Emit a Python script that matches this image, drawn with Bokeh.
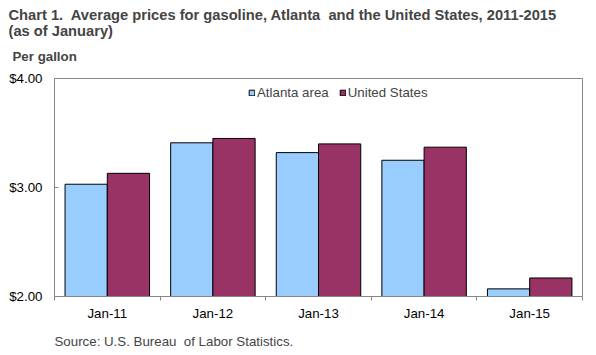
from bokeh.plotting import figure
from bokeh.models import (ColumnDataSource, Range1d, FixedTicker, NumeralTickFormatter,
                          Title, Legend, LegendItem)
from bokeh.transform import dodge
from bokeh.embed import file_html
from bokeh.resources import INLINE
import numpy as np

categories = ["Jan-11", "Jan-12", "Jan-13", "Jan-14", "Jan-15"]
atlanta = [3.03, 3.41, 3.32, 3.25, 2.07]
united_states = [3.13, 3.45, 3.40, 3.37, 2.17]
y_ticks = [2.0, 3.0, 4.0]

FONT = "Liberation Sans"
GRAY = "#868686"
NB = "\u00a0"

centers = list(np.arange(len(categories)) + 0.5)
bounds = list(np.arange(len(categories) + 1).astype(float))

src = ColumnDataSource(dict(x=centers, atl=atlanta, us=united_states))

p = figure(width=584, height=350, output_backend="svg", toolbar_location=None,
           x_range=Range1d(0, len(categories)), y_range=Range1d(2, 4),
           min_border_left=54, min_border_right=2, min_border_top=78, min_border_bottom=54)

r1 = p.vbar(x=dodge("x", -0.2, range=p.x_range), top="atl", bottom=2, width=0.4, source=src,
            fill_color="#99CCFF", line_color="black", line_width=1)
r2 = p.vbar(x=dodge("x", 0.2, range=p.x_range), top="us", bottom=2, width=0.4, source=src,
            fill_color="#993366", line_color="black", line_width=1)

p.xgrid.visible = False
p.ygrid.visible = False
p.outline_line_color = GRAY
p.outline_line_width = 1

xa = p.xaxis[0]
xa.ticker = FixedTicker(ticks=centers, minor_ticks=bounds)
xa.major_label_overrides = {c: lab for c, lab in zip(centers, categories)}
xa.major_tick_in = 0
xa.major_tick_out = 0
xa.minor_tick_in = 0
xa.minor_tick_out = 4
xa.minor_tick_line_color = GRAY
xa.axis_line_color = GRAY
xa.major_label_text_font = FONT
xa.major_label_text_font_size = "13.3px"
xa.major_label_text_color = "black"
xa.major_label_standoff = 5

ya = p.yaxis[0]
ya.ticker = FixedTicker(ticks=y_ticks)
ya.formatter = NumeralTickFormatter(format="$0.00")
ya.major_tick_in = 4
ya.major_tick_out = 0
ya.minor_tick_line_color = None
ya.major_tick_line_color = GRAY
ya.axis_line_color = GRAY
ya.major_label_text_font = FONT
ya.major_label_text_font_size = "13.3px"
ya.major_label_text_color = "black"
ya.major_label_standoff = 12

legend = Legend(items=[LegendItem(label="Atlanta area", renderers=[r1]),
                       LegendItem(label="United States", renderers=[r2])],
                orientation="horizontal", location=(194, 196),
                glyph_width=7, glyph_height=7, label_height=14, label_standoff=2,
                spacing=10, padding=0, margin=0,
                border_line_color=None, background_fill_alpha=0,
                label_text_font=FONT, label_text_font_size="13.3px")
p.add_layout(legend, "center")

t_unit = Title(text="Per gallon", align="left", offset=-42, text_font=FONT,
               text_font_size="13.3px", text_font_style="bold", standoff=30,
               vertical_align="bottom")
p.add_layout(t_unit, "above")
t_main = Title(text=f"Chart 1.{NB} Average prices for gasoline, Atlanta{NB} and the United States, 2011-2015\n(as of January)",
               align="left", offset=-46, text_font=FONT, text_font_size="14.7px",
               text_font_style="bold", standoff=-14, vertical_align="bottom")
p.add_layout(t_main, "above")

spacer = Title(text=NB, text_font=FONT, text_font_size="1px", standoff=7)
p.add_layout(spacer, "below")
t_src = Title(text=f"Source: U.S. Bureau{NB} of Labor Statistics.", align="left", offset=0,
              text_font=FONT, text_font_size="13.3px", text_font_style="normal", standoff=0,
              vertical_align="top")
p.add_layout(t_src, "below")

open("out.html", "w").write(file_html(p, INLINE))
